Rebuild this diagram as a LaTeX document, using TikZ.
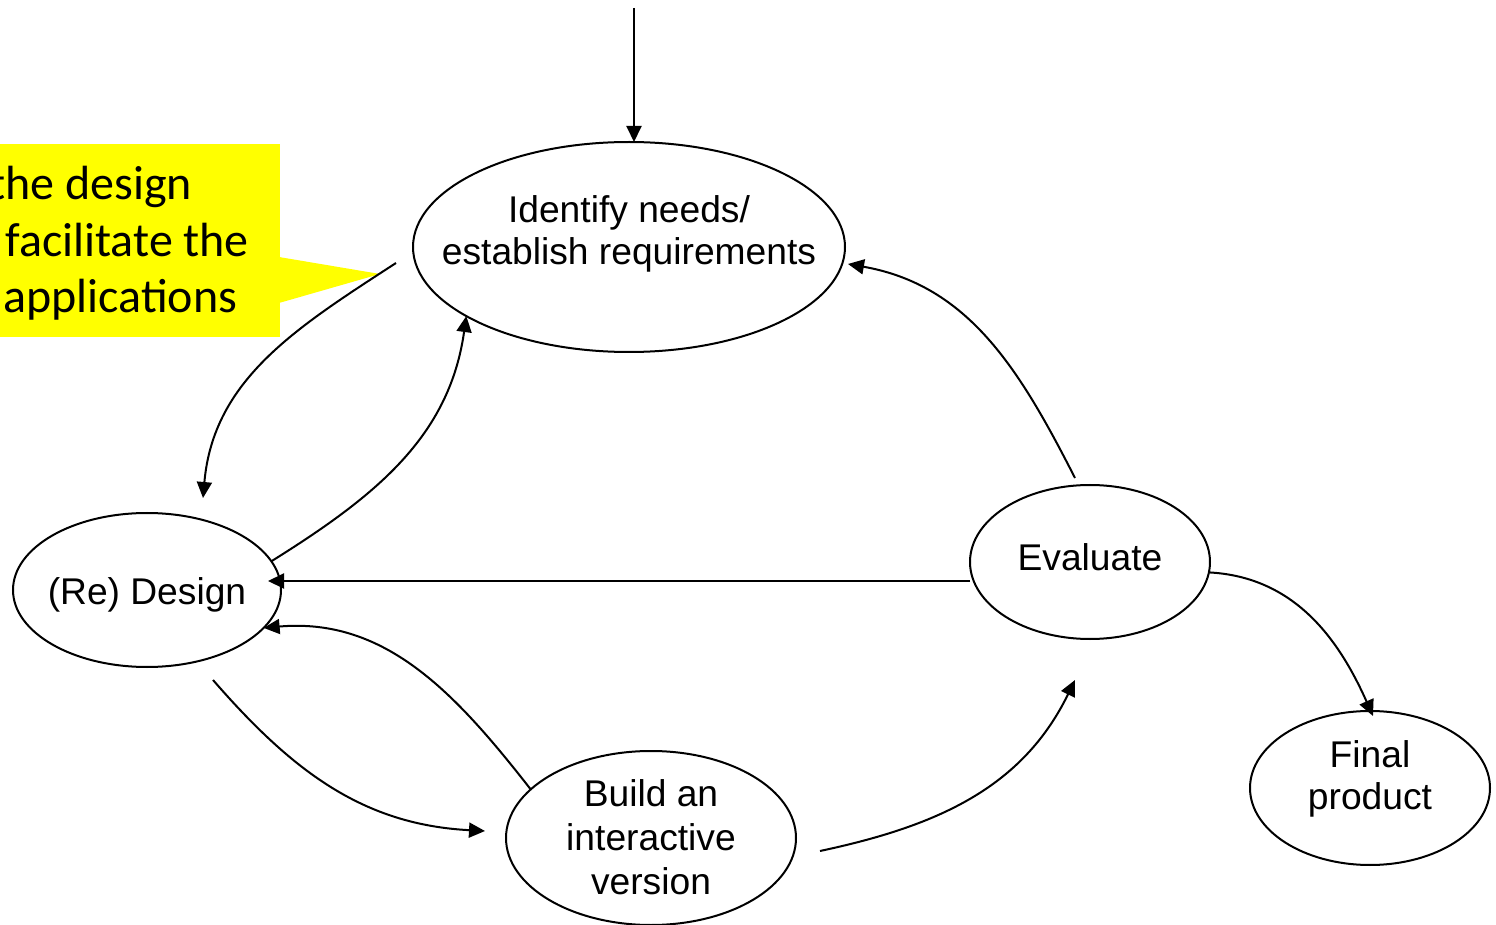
\documentclass[tikz,border=0pt]{standalone}
\usepackage{fontspec}
\setmainfont{Liberation Sans}
\newfontfamily\calloutfont{Carlito}
\usetikzlibrary{shapes.geometric, arrows.meta, positioning, calc}
\definecolor{noteyellow}{RGB}{255, 255, 0}
\newcommand{\ovaltext}[2][0pt]{\makebox[0pt]{\raisebox{#1}[\height][\depth]{\begin{tabular}{@{}c@{}}#2\end{tabular}}}}

\begin{document}
\begin{tikzpicture}[x=0.5pt, y=0.5pt, >={Triangle[length=8pt, width=7.5pt]},
  stage/.style={draw, ellipse, inner sep=0pt, outer sep=0pt, line width=1pt, font=\fontsize{18.6}{21}\selectfont},
  flow/.style={->, line width=1pt},
  note/.style={anchor=base west, inner sep=0pt, font=\calloutfont\fontsize{24}{28}\selectfont}]
  \useasboundingbox (0,0) rectangle (1496,-925);

  % yellow callout, cut at the left edge
  \begin{scope}
    \clip (0,0) rectangle (1496,-925);
    \fill[noteyellow] (0,-144) rectangle (280,-337);
    \fill[noteyellow] (279,-257) -- (380,-274) -- (279,-303) -- cycle;
    \node[note] (note1) at (-11,-200) {the design};
    \node[note] (note2) at (5,-257) {facilitate the};
    \node[note] (note3) at (3,-313) {applications};
  \end{scope}

  % stages
  \node[stage, minimum width=216pt, minimum height=105pt] (idn) at (629,-247) {\ovaltext[6pt]{Identify needs/\\establish requirements}};
  \node[stage, minimum width=134pt, minimum height=77pt] (red) at (147,-590) {\ovaltext[-3pt]{(Re) Design}};
  \node[stage, minimum width=120pt, minimum height=77pt] (eva) at (1090,-562) {\ovaltext{Evaluate}};
  \node[stage, minimum width=145pt, minimum height=87pt, inner ysep=-10pt, font=\fontsize{18.6}{22}\selectfont] (bld) at (651,-838) {\ovaltext[-2pt]{Build an\\interactive\\version}};
  \node[stage, minimum width=120pt, minimum height=77pt] (fin) at (1370,-788) {\ovaltext[4pt]{Final\\product}};

  % flows
  \coordinate (entry) at (634,-8);
  \draw[flow] (entry) -- (entry |- idn.north);
  \draw[flow] ([shift={(-17,-16)}]idn.west) to[out=213, in=85] ([shift={(56,15)}]red.north);
  \draw[flow] (red.13) to[out=32, in=262] (idn.203);
  \draw[flow] ([shift={(-15,7)}]eva.north) to[out=117, in=-10] ([shift={(3,-17)}]idn.east);
  \draw[flow] ([shift={(0,-19)}]eva.west) -- ([shift={(-13,9)}]red.east);
  \draw[flow] ([shift={(66,-13)}]red.south) to[out=-49, in=177] ([shift={(-21,7)}]bld.west);
  \draw[flow] (bld.158) to[out=128, in=5] (red.-18);
  \draw[flow] ([shift={(24,-13)}]bld.east) to[out=12, in=244] ([shift={(-15,-41)}]eva.south);
  \draw[flow] (eva.-5) to[out=-3, in=114] ([shift={(3,-5)}]fin.north);
\end{tikzpicture}
\end{document}
